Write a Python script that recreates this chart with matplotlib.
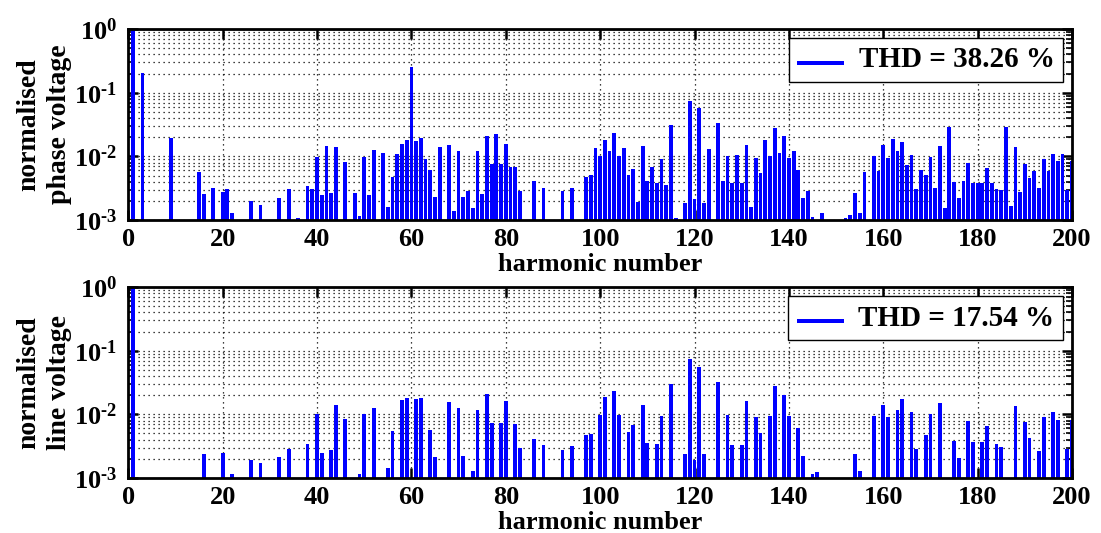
import numpy as np
import matplotlib
matplotlib.use('Agg')
import matplotlib.pyplot as plt
from matplotlib.ticker import FixedLocator, LogLocator, NullFormatter

# Fonts: Times-like bold everywhere
plt.rcParams['font.family'] = ['Liberation Serif', 'DejaVu Serif']
plt.rcParams['font.weight'] = 'bold'
plt.rcParams['mathtext.fontset'] = 'custom'
plt.rcParams['mathtext.rm'] = 'Liberation Serif:bold'
plt.rcParams['mathtext.bf'] = 'Liberation Serif:bold'
plt.rcParams['mathtext.it'] = 'Liberation Serif:bold:italic'
plt.rcParams['mathtext.default'] = 'bf'

# Phase voltage spectrum (harmonic number, normalised amplitude)
phase_h = [1, 3, 9, 15, 16, 18, 20, 21, 22, 26, 28, 32, 34, 36, 38, 39, 40, 41, 42, 43,
           44, 46, 48, 49, 50, 51, 52, 54, 55, 56, 57, 58, 59, 60, 61, 62, 63, 64, 65, 66,
           68, 69, 70, 71, 72, 73, 74, 75, 76, 77, 78, 79, 80, 81, 82, 83, 86, 88, 92, 94,
           97, 98, 99, 100, 101, 102, 103, 104, 105, 106, 107, 108, 109, 110, 111, 112,
           113, 114, 115, 116, 118, 119, 120, 121, 122, 123, 125, 126, 127, 128, 129, 130,
           131, 132, 133, 134, 135, 136, 137, 138, 139, 140, 141, 142, 143, 144, 145, 147,
           152, 153, 154, 155, 156, 158, 159, 160, 161, 162, 163, 164, 165, 166, 167, 168,
           169, 170, 171, 172, 173, 174, 175, 176, 177, 178, 179, 180, 181, 182, 183, 184,
           185, 186, 187, 188, 189, 190, 191, 192, 193, 194, 195, 196, 197, 198, 199, 200]
phase_v = [1.0, 0.206, 0.0192, 0.0056, 0.00253, 0.00314, 0.00279, 0.00307, 0.0013, 0.00196,
           0.00174, 0.00222, 0.00307, 0.00109, 0.00342, 0.00303, 0.00964, 0.00244, 0.01453,
           0.00269, 0.0138, 0.00815, 0.00262, 0.00116, 0.00988, 0.00244, 0.0124, 0.0113,
           0.00162, 0.00473, 0.0109, 0.0156, 0.0181, 0.253, 0.0174, 0.0192, 0.0092, 0.0061,
           0.00232, 0.0138, 0.0152, 0.00138, 0.0121, 0.0023, 0.00285, 0.00156, 0.0121,
           0.00259, 0.0209, 0.0076, 0.0222, 0.0076, 0.0158, 0.0068, 0.0068, 0.00285, 0.0041,
           0.00314, 0.00285, 0.00314, 0.00473, 0.0051, 0.0134, 0.0102, 0.0181, 0.0121, 0.023,
           0.01, 0.0134, 0.0051, 0.00632, 0.00192, 0.01453, 0.0041, 0.0069, 0.00386, 0.00897,
           0.00355, 0.0307, 0.00106, 0.00187, 0.074, 0.00211, 0.0567, 0.00183, 0.0129, 0.033,
           0.0041, 0.01, 0.00377, 0.0105, 0.00386, 0.0152, 0.00162, 0.00953, 0.0054, 0.0181,
           0.01, 0.0282, 0.0114, 0.0206, 0.00953, 0.0121, 0.0061, 0.00222, 0.00285, 0.00113,
           0.0013, 0.00106, 0.0012, 0.00262, 0.0013, 0.00567, 0.01, 0.00596, 0.0149, 0.0093,
           0.0187, 0.0121, 0.017, 0.0073, 0.0105, 0.00303, 0.0061, 0.0051, 0.0099, 0.00314,
           0.0145, 0.00152, 0.0292, 0.004, 0.00219, 0.0041, 0.0078, 0.00377, 0.00386, 0.00377,
           0.0066, 0.00386, 0.00303, 0.00296, 0.0292, 0.00166, 0.0138, 0.00279, 0.0076,
           0.00457, 0.0058, 0.00314, 0.00897, 0.0058, 0.0109, 0.00834, 0.0109, 0.003, 0.0083]

# Line voltage spectrum
line_h = [1, 16, 20, 22, 26, 28, 32, 34, 38, 40, 41, 43, 44, 46, 49, 50, 52, 55, 56, 58,
          59, 61, 62, 64, 65, 68, 70, 71, 73, 74, 76, 77, 79, 80, 82, 83, 86, 88, 92, 94,
          97, 98, 100, 101, 103, 104, 106, 107, 109, 110, 112, 113, 115, 118, 119, 120, 121,
          122, 125, 127, 128, 130, 131, 133, 134, 136, 137, 139, 140, 142, 143, 145, 146,
          154, 155, 158, 160, 161, 163, 164, 166, 167, 169, 170, 172, 175, 176, 178, 179,
          181, 182, 184, 185, 188, 190, 191, 193, 194, 196, 197, 199, 200]
line_v = [1.0, 0.00236, 0.0025, 0.00117, 0.00194, 0.00174, 0.00214, 0.00285, 0.00346, 0.01,
          0.0025, 0.00279, 0.0138, 0.00834, 0.00116, 0.00995, 0.01257, 0.00145, 0.0054, 0.017,
          0.0181, 0.0174, 0.0181, 0.0056, 0.00211, 0.0158, 0.01257, 0.00219, 0.00127, 0.0117,
          0.0206, 0.0073, 0.0073, 0.0162, 0.00713, 0.00296, 0.00415, 0.0033, 0.00275, 0.00318,
          0.00468, 0.00491, 0.00964, 0.0187, 0.023, 0.00964, 0.00528, 0.0068, 0.0138, 0.00359,
          0.00338, 0.0093, 0.0303, 0.00236, 0.0731, 0.0019, 0.0554, 0.00241, 0.0318, 0.00988,
          0.0033, 0.0033, 0.0162, 0.00908, 0.0051, 0.0093, 0.0275, 0.0201, 0.0093, 0.00618,
          0.00219, 0.00117, 0.00124, 0.00236, 0.00127, 0.0093, 0.0142, 0.00897, 0.0117, 0.0174,
          0.0109, 0.00285, 0.00468, 0.0101, 0.0152, 0.00386, 0.00206, 0.00785, 0.00372,
          0.00363, 0.00656, 0.00338, 0.00307, 0.0134, 0.00748, 0.00425, 0.00265, 0.00897,
          0.0109, 0.00824, 0.0029, 0.0081]

ytick_vals = [1e-3, 1e-2, 1e-1, 1]
ytick_text = ['$10^{\u20103}$', '$10^{\u20102}$', '$10^{\u20101}$', '$10^{0}$']

panels = [
    (phase_h, phase_v, 'normalised\nphase voltage', 'THD = 38.26 %'),
    (line_h, line_v, 'normalised\nline voltage', 'THD = 17.54 %'),
]

fig = plt.figure(figsize=(11.01, 5.33), dpi=100)
ax_rects = [[0.1165, 0.5872, 0.8572, 0.3584],
            [0.1165, 0.1032, 0.8572, 0.3583]]

bottom = 1e-5
for rect, (h, v, ylab, thd) in zip(ax_rects, panels):
    ax = fig.add_axes(rect)
    v = np.array(v)
    ax.bar(h, v - bottom, bottom=bottom, width=0.8, color='#0000ff',
           edgecolor='none', label=thd)
    ax.set_yscale('log')
    ax.set_xlim(0, 200)
    ax.set_ylim(1e-3, 1)

    # ticks
    ax.xaxis.set_major_locator(FixedLocator(np.arange(0, 201, 20)))
    ax.yaxis.set_major_locator(FixedLocator(ytick_vals))
    ax.yaxis.set_minor_locator(LogLocator(base=10, subs=np.arange(2, 10), numticks=10))
    ax.yaxis.set_minor_formatter(NullFormatter())
    ax.set_yticklabels(ytick_text)
    ax.tick_params(axis='both', which='major', direction='in', top=True, right=True,
                   length=7, width=1.8, pad=6)
    ax.tick_params(axis='x', which='major', labelsize=19)
    ax.tick_params(axis='y', which='major', labelsize=19, pad=8)
    ax.tick_params(axis='y', which='minor', direction='in', right=True, left=True,
                   length=4, width=1.2)
    for lab in ax.get_xticklabels():
        lab.set_fontweight('bold')

    # dotted grid, major x and major+minor y
    ax.grid(True, which='major', axis='both', color='black', linestyle=(0, (1, 3)),
            linewidth=0.9)
    ax.grid(True, which='minor', axis='y', color='black', linestyle=(0, (1, 3)),
            linewidth=0.9)
    ax.set_axisbelow(True)

    for sp in ax.spines.values():
        sp.set_linewidth(2)

    ax.set_xlabel('harmonic number', fontsize=19, fontweight='bold', labelpad=1)
    ax.set_ylabel(ylab, fontsize=20, fontweight='bold', labelpad=1, linespacing=1.35)

    leg = ax.legend(loc='upper right', fontsize=21, handlelength=1.6, handletextpad=0.5,
                    borderpad=0.3, borderaxespad=0.3, fancybox=False, framealpha=1)
    leg.get_frame().set_edgecolor('black')
    leg.get_frame().set_linewidth(1)
    for hnd in leg.legend_handles:
        hnd.set_height(3)
        hnd.set_y(hnd.get_y() + 2)

fig.savefig('out.png', dpi=100)
